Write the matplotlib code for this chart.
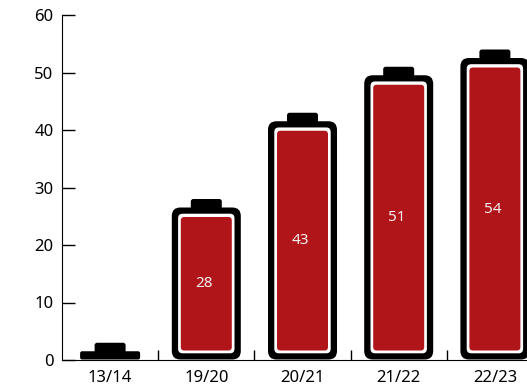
import matplotlib
matplotlib.use('Agg')
import matplotlib.pyplot as plt
from matplotlib.patches import FancyBboxPatch
from matplotlib.transforms import IdentityTransform
import numpy as np

seasons = ['13/14', '19/20', '20/21', '21/22', '22/23']
values = [3, 28, 43, 51, 54]
shown_labels = ['', '28', '43', '51', '54']

RED = '#b0151a'
plt.rcParams['font.family'] = ['Noto Sans', 'DejaVu Sans']


def rounded(ax, x0, y0, x1, y1, r, color):
    # everything here is in display pixels so the corners stay round
    r = min(r, (x1 - x0) / 2, (y1 - y0) / 2)
    p = FancyBboxPatch((x0 + r, y0 + r), x1 - x0 - 2 * r, y1 - y0 - 2 * r,
                       boxstyle=f'round,pad={r},rounding_size={r}',
                       fc=color, ec='none', lw=0,
                       transform=IdentityTransform(), clip_on=False, zorder=3)
    ax.add_patch(p)


def draw_battery(ax, i, value, label):
    cx, base = ax.transData.transform((i, 0))
    _, top = ax.transData.transform((i, value))
    base += 0.5
    body_top = top - 8.5

    # cap
    rounded(ax, cx - 15.5, body_top - 2, cx + 15.5, top, 2.5, 'black')

    # too short for an inner cell, just a small black block
    if body_top - base < 20:
        rounded(ax, cx - 30, base, cx + 30, body_top, 2, 'black')
        return

    rounded(ax, cx - 34.5, base, cx + 34.5, body_top, 8.5, 'black')
    rounded(ax, cx - 28.2, base + 6.2, cx + 28.2, body_top - 6.2, 4.5, 'white')
    rounded(ax, cx - 25.5, base + 9, cx + 25.5, top - 18, 3.5, RED)
    ax.text(cx - 2, (base + 9 + top - 18) / 2, label, color='#f5f0f0',
            fontsize=11, ha='center', va='center',
            transform=IdentityTransform(), zorder=4)


fig = plt.figure(figsize=(5.27, 3.88), dpi=100)
ax = fig.add_axes([62 / 527, 28 / 388, 481 / 527, 345 / 388])

x = np.arange(len(seasons))
ax.set_xlim(-0.5, len(seasons) - 0.5)
ax.set_ylim(0, 60)

ax.spines['top'].set_visible(False)
ax.spines['right'].set_visible(False)

ax.set_yticks(range(0, 61, 10))
ax.tick_params(axis='y', direction='in', length=9, width=1, pad=6, labelsize=12)
ax.set_xticks(x)
ax.set_xticklabels(seasons)
ax.tick_params(axis='x', which='major', length=0, pad=7, labelsize=12)
ax.set_xticks(x[:-1] + 0.5, minor=True)
ax.tick_params(axis='x', which='minor', direction='in', length=7, width=1)

for i, (v, lab) in enumerate(zip(values, shown_labels)):
    draw_battery(ax, i, v, lab)

fig.savefig('out.png', dpi=100)
